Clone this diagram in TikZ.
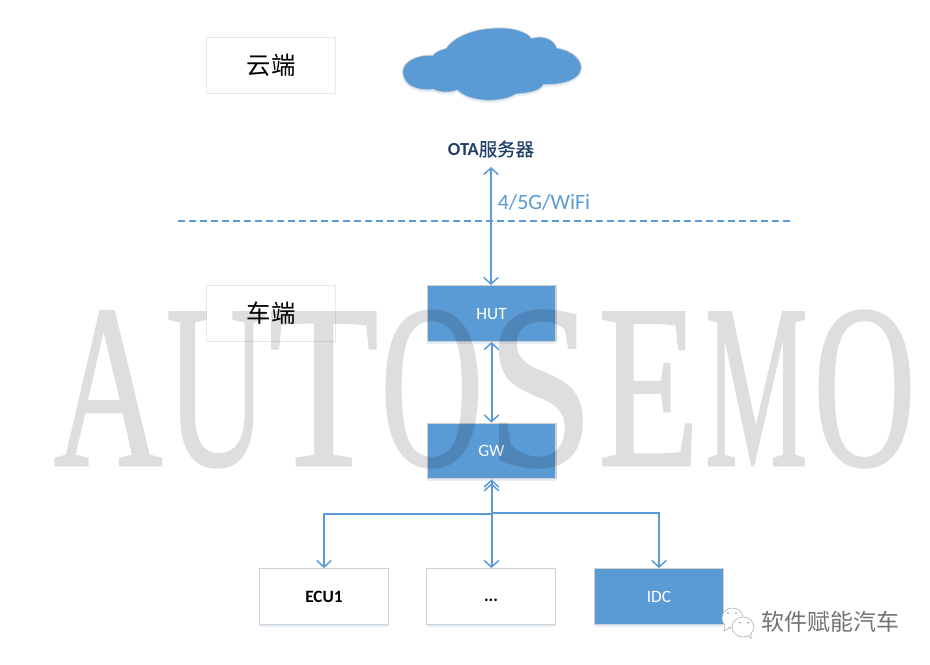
\documentclass[tikz,border=0pt]{standalone}
\usepackage{fontspec}
\setmainfont{Carlito}
\newfontfamily\cjk{Noto Sans CJK SC}
\newfontfamily\cjkb[FakeBold=0.4]{Noto Sans CJK SC}
\newfontfamily\wm[FakeBold=1.2]{Liberation Serif}
\usetikzlibrary{arrows.meta}
\definecolor{bluefill}{HTML}{5B9BD5}
\definecolor{boxline}{HTML}{D0D0D0}
\definecolor{otatext}{HTML}{1F3F66}
\newcommand{\wl}[2]{\scalebox{#1}[1]{#2}}
\tikzset{
  x=0.75pt,y=-0.75pt,
  softshadow/.style={preaction={draw=none,fill=bluefill,fill opacity=.16,transform canvas={yshift=-1.8pt}}},
  basebox/.style={minimum width=96.6pt,minimum height=41.8pt,inner sep=0pt,line width=.9pt},
  bluebox/.style={basebox,softshadow,draw=boxline,fill=bluefill,text=white,font=\fontsize{13}{15}\selectfont},
  whitebox/.style={basebox,softshadow,draw=boxline,fill=white,text=black,font=\fontsize{13}{15}\selectfont},
  labelbox/.style={basebox,draw=black!9,line width=.5pt,fill=white,font=\cjk\fontsize{18.3}{20}\selectfont},
  conn/.style={draw=bluefill,line width=1.5pt},
  vtip/.tip={Straight Barb[length=5pt,width=11pt,line width=1.1pt]},
  wtip/.tip={Straight Barb[length=5pt,width=11pt,line width=1.1pt,sep=-3.5pt]Straight Barb[length=5pt,width=11pt,line width=1.1pt]},
}
\begin{document}
\begin{tikzpicture}
\useasboundingbox (0,0) rectangle (930,664);
\fill[white] (0,0) rectangle (930,664);

% cloud
\begin{scope}[shift={(380,10)},x=.25pt,y=-.25pt]
\fill[bluefill,draw=boxline,line width=.5pt,softshadow]
 (68,185) .. controls (68,155) and (110,133) .. (158,136)
 .. controls (168,124) and (185,118) .. (198,115)
 .. controls (225,75) and (290,55) .. (350,54)
 .. controls (400,52) and (440,65) .. (455,85)
 .. controls (490,73) and (525,90) .. (530,114)
 .. controls (580,122) and (605,150) .. (604,175)
 .. controls (600,210) and (550,225) .. (490,224)
 .. controls (480,245) and (440,250) .. (408,252)
 .. controls (370,278) and (270,280) .. (232,240)
 .. controls (210,250) and (175,247) .. (160,238)
 .. controls (110,245) and (68,225) .. (68,185) -- cycle;
\end{scope}

% label boxes
\node[labelbox] (cloudlabel) at (271,65) {云端};
\node[labelbox] (carlabel) at (271,313.5) {车端};

% boxes
\node[bluebox] (hut) at (491.5,313.5) {HUT};
\node[bluebox] (gw) at (491.5,451) {GW};
\node[whitebox] (ecu) at (324,596.5) {\textbf{ECU1}};
\node[whitebox] (dots) at (491,596.5) {\raisebox{-3.5pt}[5pt][5pt]{\textbf{...}}};
\node[bluebox] (idc) at (659,596.5) {IDC};
\node[inner sep=0pt,text=otatext,font=\fontsize{13.8}{15}\selectfont\bfseries] (ota) at (491,149) {OTA{\cjkb\mdseries 服务器}};
\node[inner sep=0pt,anchor=west,text=bluefill,font=\fontsize{16.4}{18}\selectfont] (link) at (497.5,202) {4/5G/WiFi};

% dashed separator
\coordinate (sepL) at (178,221);
\coordinate (sepR) at (792,221);
\draw[conn,line width=1.4pt,dash pattern=on 5.5pt off 2.75pt] (sepL) -- (sepR);

% connectors
\coordinate (otaend) at (491,167);
\draw[conn,{vtip}-{vtip}] (otaend) -- (hut.north -| otaend);
\draw[conn,{vtip}-{vtip}] (hut.south) -- (gw.north);
\draw[conn,{wtip}-{vtip}] (gw.south) -- (dots.north -| gw.south);
\coordinate (busL) at (491.5,514);
\coordinate (busR) at (491.5,513);
\draw[conn,-{vtip}] (busL) -| (ecu.north);
\draw[conn,-{vtip}] (busR) -| (idc.north);

% watermark
\begin{scope}[transparency group,opacity=.13]
\node[inner sep=0pt,anchor=base west,text=black,font=\wm\fontsize{174.75}{175}\selectfont] (mark) at (53.65,465)
  {\wl{.646}{A}\kern2.8pt\wl{.60}{U}\kern1.3pt\wl{.77}{T}\kern1.4pt\wl{.61}{O}\kern3.1pt\wl{.82}{S}\kern3.6pt\wl{.71}{E}\kern4.3pt\wl{.495}{M}\kern4.4pt\wl{.605}{O}};
\end{scope}

% wechat icon
\begin{scope}[draw=black!30,fill=white,line width=.45pt]
  \path[draw,fill] (725,624) -- (724,631) -- (732,626.5) -- cycle;
  \path[draw,fill] (732.5,618) ellipse [x radius=7.9pt,y radius=7.5pt];
  \path[fill] (725.5,624.5) -- (725,629) -- (731,625.5) -- cycle;
  \path[draw,fill] (746,633) -- (751,638.5) -- (751,630) -- cycle;
  \path[draw,fill] (743,627) ellipse [x radius=8.2pt,y radius=7.5pt];
  \path[fill] (746.5,632) -- (750.2,636.5) -- (750.2,630) -- cycle;
  \fill[black!45] (728,613) circle (.7pt) (736,613) circle (.7pt) (740,622.7) circle (.7pt) (748,622.7) circle (.7pt);
\end{scope}
\node[inner sep=0pt,text=black!55,font=\cjk\fontsize{17.2}{19}\selectfont] (brand) at (830.5,622) {软件赋能汽车};
\end{tikzpicture}
\end{document}
